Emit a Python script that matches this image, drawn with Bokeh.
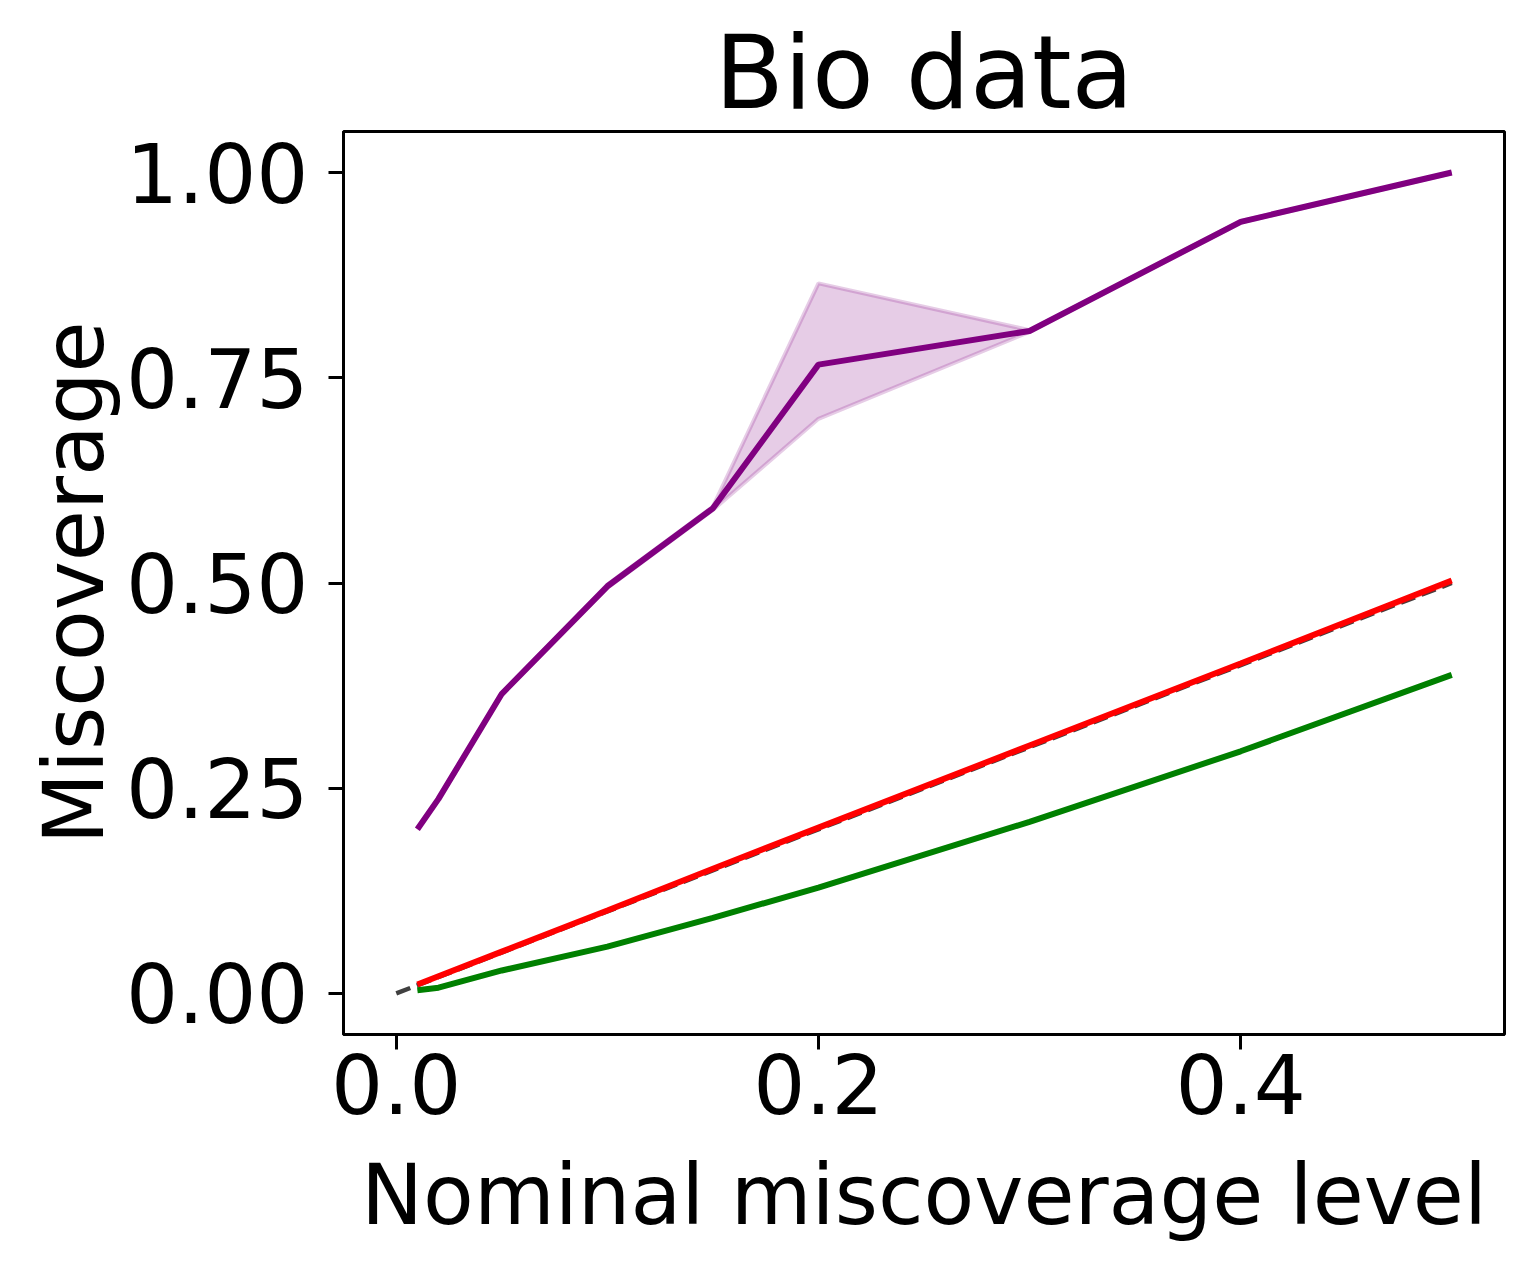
from bokeh.plotting import figure
from bokeh.models import Range1d, FixedTicker, LinearAxis
from bokeh.embed import file_html
from bokeh.resources import INLINE

# ---- data ----
alpha_levels = [0.01, 0.02, 0.05, 0.10, 0.15, 0.20, 0.30, 0.40, 0.50]
purple_mean = [0.200, 0.237, 0.365, 0.496, 0.591, 0.766, 0.807, 0.940, 1.000]
purple_lo = [0.200, 0.236, 0.364, 0.494, 0.589, 0.700, 0.806, 0.939, 0.999]
purple_hi = [0.201, 0.238, 0.366, 0.498, 0.593, 0.865, 0.808, 0.941, 1.000]
red_mean = [0.011, 0.021, 0.051, 0.101, 0.152, 0.202, 0.302, 0.402, 0.503]
red_lo = [0.009, 0.019, 0.048, 0.098, 0.148, 0.198, 0.298, 0.398, 0.498]
red_hi = [0.012, 0.022, 0.052, 0.102, 0.153, 0.203, 0.303, 0.404, 0.505]
green_mean = [0.004, 0.007, 0.028, 0.057, 0.092, 0.129, 0.209, 0.295, 0.388]
green_lo = [0.003, 0.006, 0.027, 0.055, 0.090, 0.127, 0.207, 0.293, 0.386]
green_hi = [0.005, 0.008, 0.029, 0.058, 0.093, 0.130, 0.211, 0.297, 0.390]
diag_x = [0.0, 0.5]
diag_y = [0.0, 0.5]

x_ticks = [0.0, 0.2, 0.4]
x_tick_labels = ["0.0", "0.2", "0.4"]
y_ticks = [0.0, 0.25, 0.5, 0.75, 1.0]
y_tick_labels = ["0.00", "0.25", "0.50", "0.75", "1.00"]
title_text = "Bio data"

FONT = "DejaVu Sans"
X0, X1 = -0.025, 0.525
Y0, Y1 = -0.05, 1.05

p = figure(
    frame_width=1161, frame_height=903,
    min_border_left=343, min_border_top=131, min_border_right=22, min_border_bottom=232,
    x_range=Range1d(X0, X1), y_range=Range1d(Y0, Y1),
    output_backend="svg", toolbar_location=None,
)

p.xgrid.visible = False
p.ygrid.visible = False
p.outline_line_color = "black"
p.outline_line_width = 3
p.background_fill_color = "white"
p.border_fill_color = "white"

xax = p.below[0]
yax = p.left[0]

# title drawn as the label of a tickless axis above the frame
title_axis = LinearAxis(axis_label=title_text, ticker=FixedTicker(ticks=[]))
title_axis.axis_line_color = None
title_axis.major_tick_line_color = None
title_axis.minor_tick_line_color = None
title_axis.major_label_text_font_size = "1px"
title_axis.axis_label_text_font = FONT
title_axis.axis_label_text_font_size = "101px"
title_axis.axis_label_text_font_style = "normal"
title_axis.axis_label_text_color = "black"
title_axis.axis_label_standoff = 0
title_axis.major_label_standoff = 0
title_axis.major_tick_out = 0
title_axis.major_tick_in = 0
p.add_layout(title_axis, "above")

# diagonal reference
p.line(diag_x, diag_y, line_color="#404040", line_width=4.5, line_dash="15 7")

# bands
p.varea(x=alpha_levels, y1=red_lo, y2=red_hi, fill_color="red", fill_alpha=0.2)
p.varea(x=alpha_levels, y1=green_lo, y2=green_hi, fill_color="green", fill_alpha=0.2)
p.varea(x=alpha_levels, y1=purple_lo, y2=purple_hi, fill_color="purple", fill_alpha=0.2)
p.line(alpha_levels, purple_lo, line_color="purple", line_alpha=0.2, line_width=4)
p.line(alpha_levels, purple_hi, line_color="purple", line_alpha=0.2, line_width=4)

# mean lines
p.line(alpha_levels, green_mean, line_color="green", line_width=6)
p.line(alpha_levels, red_mean, line_color="red", line_width=6)
p.line(alpha_levels, purple_mean, line_color="purple", line_width=6)

# axes
xax.ticker = FixedTicker(ticks=x_ticks)
xax.major_label_overrides = {t: l for t, l in zip(x_ticks, x_tick_labels)}
yax.ticker = FixedTicker(ticks=y_ticks)
yax.major_label_overrides = {t: l for t, l in zip(y_ticks, y_tick_labels)}
xax.axis_label = "Nominal miscoverage level"
yax.axis_label = "Miscoverage"
for ax in (xax, yax):
    ax.axis_label_text_font = FONT
    ax.axis_label_text_font_size = "83px"
    ax.axis_label_text_font_style = "normal"
    ax.major_label_text_font = FONT
    ax.major_label_text_font_size = "82px"
    ax.major_label_text_color = "black"
    ax.axis_label_text_color = "black"
    ax.minor_tick_line_color = None
    ax.major_tick_in = 0
    ax.major_tick_out = 15
    ax.major_tick_line_width = 3
    ax.axis_line_width = 3
xax.major_label_standoff = 4
xax.axis_label_standoff = 30
yax.major_label_standoff = 20
yax.axis_label_standoff = 0

open("out.html", "w").write(file_html(p, INLINE))
